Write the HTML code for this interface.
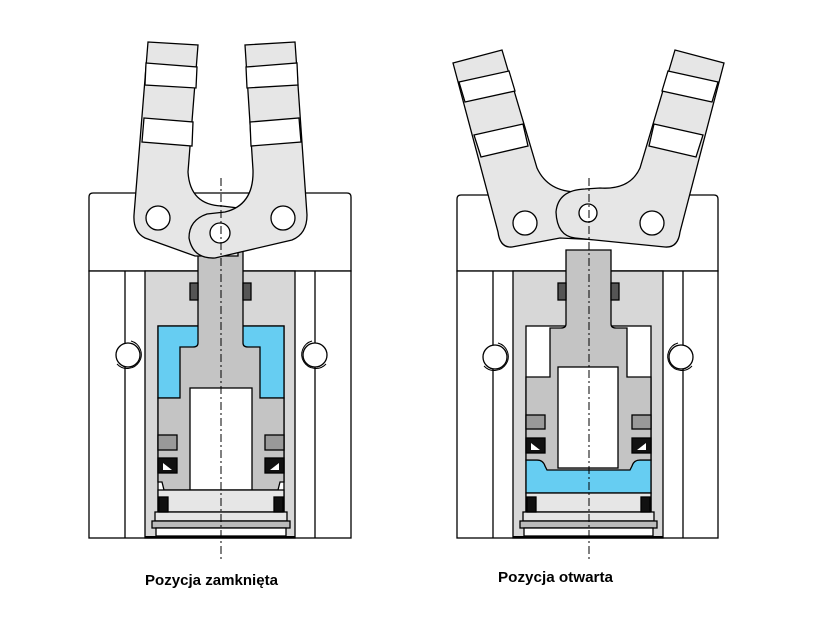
<!DOCTYPE html>
<html><head><meta charset="utf-8"><style>html,body{margin:0;padding:0;background:#fff}svg{display:block}</style></head>
<body>
<svg width="817" height="617" viewBox="0 0 817 617" xmlns="http://www.w3.org/2000/svg" font-family="Liberation Sans, sans-serif">
<g stroke="#000" stroke-width="1.3">
<!-- LEFT HOUSING -->
<path d="M89,271 L89,197 Q89,193 93,193 L347,193 Q351,193 351,197 L351,271 Z" fill="#fff"/>
<rect x="89" y="271" width="262" height="267" fill="#fff"/>
<line x1="125" y1="271" x2="125" y2="538"/><line x1="315" y1="271" x2="315" y2="538"/>
<rect x="145" y="271" width="150" height="267" fill="#d7d7d7"/>
<rect x="158" y="326" width="126" height="205" fill="#fff"/>
<rect x="158" y="326" width="126" height="72" fill="#66cdf2"/>
<path d="M198,250 L243,250 L243,343 Q243,347 248,347 L260,347 L260,398 L284,398 L284,482 L280,482 L278,490 L164,490 L162,482 L158,482 L158,398 L180,398 L180,347 L193,347 Q198,347 198,343 Z" fill="#c4c4c4"/>
<rect x="190" y="388" width="62" height="102" fill="#fff"/>
<rect x="158" y="435" width="19" height="15" fill="#999"/><rect x="265" y="435" width="19" height="15" fill="#999"/>
<rect x="158" y="458" width="19" height="15" fill="#111"/><rect x="265" y="458" width="19" height="15" fill="#111"/>
<path d="M163,463 L172,470 L163,470Z M270,470 L279,463 L279,470Z" fill="#fff" stroke="none"/>
<rect x="158" y="490" width="126" height="22" fill="#e6e6e6"/>
<rect x="155" y="512" width="132" height="9" fill="#e6e6e6"/>
<rect x="159" y="497" width="9" height="15" fill="#111"/><rect x="274" y="497" width="9" height="15" fill="#111"/>
<rect x="152" y="521" width="138" height="7" fill="#bbb"/>
<rect x="156" y="528" width="130" height="8" fill="#fff"/>
<line x1="145" y1="537" x2="295" y2="537" stroke-width="2"/>
<rect x="190" y="283" width="8" height="17" fill="#555"/><rect x="243" y="283" width="8" height="17" fill="#555"/>
<circle cx="128" cy="355" r="12" fill="#fff"/><path d="M117,364 A14,14 0 1 0 131,341" fill="none" stroke-width="1"/>
<circle cx="315" cy="355" r="12" fill="#fff"/><path d="M326,364 A14,14 0 1 1 312,341" fill="none" stroke-width="1"/>
<!-- LEFT FINGERS -->
<path d="M148,42 L198,45 L188,172 Q190,205 222,206 L238,208 L238,256 L195,256 L145,238 Q133,232 134,215 Z" fill="#e6e6e6"/>
<path d="M146,63 L197,67 L196,88 L145,85Z M144,118 L193,122 L192,146 L142,142Z" fill="#fff"/>
<path d="M295,42 L245,45 L253,170 Q254,205 225,212 L207,214 Q189,220 189,238 Q193,259 215,258 L292,240 Q307,234 307,215 Z" fill="#e6e6e6"/>
<path d="M246,67 L297,63 L298,85 L247,88Z M250,122 L299,118 L301,142 L251,146Z" fill="#fff"/>
<circle cx="158" cy="218" r="12" fill="#fff"/><circle cx="283" cy="218" r="12" fill="#fff"/><circle cx="220" cy="233" r="10" fill="#fff"/>

<!-- RIGHT HOUSING -->
<path d="M457,271 L457,199 Q457,195 461,195 L714,195 Q718,195 718,199 L718,271 Z" fill="#fff"/>
<rect x="457" y="271" width="261" height="267" fill="#fff"/>
<line x1="493" y1="271" x2="493" y2="538"/><line x1="683" y1="271" x2="683" y2="538"/>
<rect x="513" y="271" width="150" height="267" fill="#d7d7d7"/>
<rect x="526" y="326" width="125" height="205" fill="#fff"/>
<rect x="526" y="460" width="125" height="33" fill="#66cdf2"/>
<path d="M566,250 L611,250 L611,324 Q611,328 616,328 L627,328 L627,377 L651,377 L651,460 L640,460 Q634,460 632,466 L630,470 L547,470 L545,466 Q543,460 537,460 L526,460 L526,377 L550,377 L550,328 L561,328 Q566,328 566,324 Z" fill="#c4c4c4"/>
<rect x="558" y="367" width="60" height="101" fill="#fff"/>
<rect x="526" y="415" width="19" height="14" fill="#999"/><rect x="632" y="415" width="19" height="14" fill="#999"/>
<rect x="526" y="438" width="19" height="15" fill="#111"/><rect x="632" y="438" width="19" height="15" fill="#111"/>
<path d="M531,443 L540,450 L531,450Z M637,450 L646,443 L646,450Z" fill="#fff" stroke="none"/>
<rect x="526" y="493" width="125" height="19" fill="#e6e6e6"/>
<rect x="523" y="512" width="131" height="9" fill="#e6e6e6"/>
<rect x="527" y="497" width="9" height="15" fill="#111"/><rect x="641" y="497" width="9" height="15" fill="#111"/>
<rect x="520" y="521" width="137" height="7" fill="#bbb"/>
<rect x="524" y="528" width="129" height="8" fill="#fff"/>
<line x1="513" y1="537" x2="663" y2="537" stroke-width="2"/>
<rect x="558" y="283" width="8" height="17" fill="#555"/><rect x="611" y="283" width="8" height="17" fill="#555"/>
<circle cx="495" cy="357" r="12" fill="#fff"/><path d="M484,366 A14,14 0 1 0 498,343" fill="none" stroke-width="1"/>
<circle cx="681" cy="357" r="12" fill="#fff"/><path d="M692,366 A14,14 0 1 1 678,343" fill="none" stroke-width="1"/>
<!-- RIGHT FINGERS -->
<path d="M453,63 L502,50 L537,168 Q548,192 578,192 L600,190 L600,240 L560,238 L512,247 Q500,248 498,232 Z" fill="#e6e6e6"/>
<path d="M459,82 L509,71 L515,91 L465,102Z M474,135 L523,124 L528,146 L481,157Z" fill="#fff"/>
<path d="M724,63 L675,50 L640,168 Q630,190 600,188 L585,189 Q558,190 556,212 Q557,236 575,238 L665,247 Q678,248 680,232 Z" fill="#e6e6e6"/>
<path d="M718,82 L668,71 L662,91 L712,102Z M703,135 L654,124 L649,146 L696,157Z" fill="#fff"/>
<circle cx="525" cy="223" r="12" fill="#fff"/><circle cx="652" cy="223" r="12" fill="#fff"/><circle cx="588" cy="213" r="9" fill="#fff"/>
</g>
<g stroke="#000" stroke-width="1" stroke-dasharray="8,3,2,3" fill="none">
<line x1="221" y1="178" x2="221" y2="560"/><line x1="589" y1="178" x2="589" y2="560"/>
</g>
<text x="145" y="585" font-size="14.5" font-weight="bold" textLength="133" lengthAdjust="spacingAndGlyphs">Pozycja zamknięta</text>
<text x="498" y="582" font-size="14.5" font-weight="bold" textLength="115" lengthAdjust="spacingAndGlyphs">Pozycja otwarta</text>
</svg>
</body></html>
